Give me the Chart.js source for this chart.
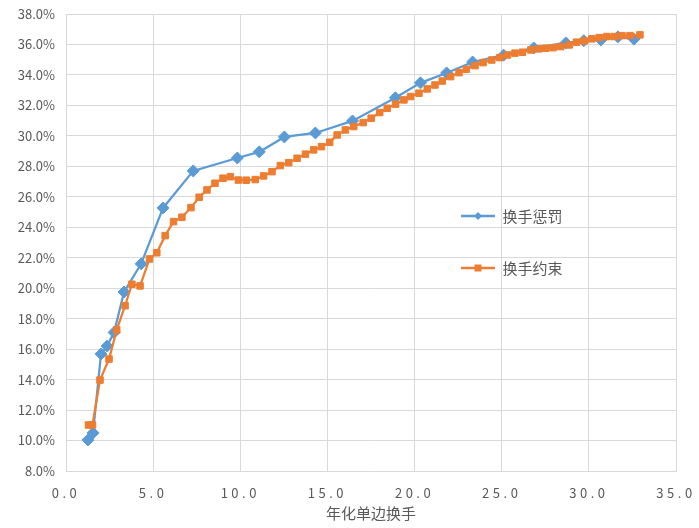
<!DOCTYPE html>
<html>
<head>
<meta charset="utf-8">
<script src="https://cdn.jsdelivr.net/npm/chart.js@4.4.0/dist/chart.umd.min.js"></script>
<style>
  body { margin: 0; background: #fff; }
  #wrap { width: 699px; height: 528px; }
</style>
</head>
<body>
<div id="wrap"><canvas id="turnoverChart" width="699" height="528"></canvas></div>
<script>
// series names
const seriesNames = ["换手惩罚", "换手约束"];

// 换手惩罚: annualized one-way turnover vs value (%)
const penaltyX = [1.26, 1.55, 2.01, 2.36, 2.76, 3.33, 4.31, 5.57, 7.30, 9.83, 11.09, 12.53, 14.31,
    16.44, 18.9, 20.34, 21.84, 23.33, 25.11, 26.84, 28.68, 29.71, 30.69, 31.67, 32.59];
const penaltyY = [10.04, 10.5, 15.68, 16.2, 17.1, 19.75, 21.6, 25.27, 27.7, 28.55, 28.95, 29.93, 30.19,
    30.98, 32.5, 33.48, 34.13, 34.85, 35.3, 35.77, 36.1, 36.25, 36.3, 36.5, 36.35];

// 换手约束
const constraintX = [1.29, 1.52, 1.95, 2.47, 2.91, 3.39, 3.78, 4.25, 4.79, 5.21, 5.69, 6.17, 6.65, 7.17,
    7.64, 8.09, 8.55, 9.01, 9.43, 9.89, 10.34, 10.86, 11.34, 11.82, 12.3, 12.78, 13.26, 13.74, 14.21,
    14.66, 15.13, 15.56, 16.03, 16.51, 17.05, 17.51, 18.0, 18.43, 18.91, 19.39, 19.77, 20.25, 20.73,
    21.17, 21.59, 22.07, 22.55, 22.97, 23.47, 23.93, 24.43, 24.89, 25.33, 25.76, 26.19, 26.67, 27.11,
    27.53, 27.95, 28.39, 28.87, 29.29, 29.73, 30.17, 30.59, 31.03, 31.45, 31.9, 32.36, 32.93];
const constraintY = [11.02, 11.02, 13.97, 15.35, 17.26, 18.85, 20.26, 20.15, 21.92, 22.33, 23.45, 24.37,
    24.66, 25.29, 25.97, 26.45, 26.89, 27.22, 27.32, 27.1, 27.09, 27.13, 27.37, 27.65, 28.05, 28.24,
    28.53, 28.8, 29.08, 29.29, 29.58, 30.06, 30.39, 30.61, 30.87, 31.16, 31.53, 31.81, 32.08, 32.36,
    32.58, 32.8, 33.08, 33.34, 33.6, 33.89, 34.15, 34.37, 34.61, 34.81, 34.98, 35.14, 35.31, 35.43,
    35.49, 35.64, 35.71, 35.75, 35.79, 35.86, 35.97, 36.15, 36.23, 36.37, 36.45, 36.52, 36.52, 36.58,
    36.58, 36.63];

// axis range
const xRange = [0, 35, 5];
const yRange = [8, 38, 2];
const xTitle = "年化单边换手";

const BLUE = "#5B9BD5";
const ORANGE = "#ED7D31";
const TEXT = "#595959";
const GRID = "#D9D9D9";
const FONT = "'Noto Sans CJK SC', 'Noto Sans', sans-serif";

function toPoints(xs, ys) {
    return xs.map((x, i) => ({ x: x, y: ys[i] }));
}

// small line+marker image used as legend symbol
function legendMark(color, shape) {
    const c = document.createElement('canvas');
    c.width = 34; c.height = 12;
    const g = c.getContext('2d');
    g.strokeStyle = color;
    g.lineWidth = 2.5;
    g.beginPath(); g.moveTo(0, 6); g.lineTo(34, 6); g.stroke();
    g.fillStyle = color;
    g.beginPath();
    if (shape === 'diamond') {
        g.moveTo(17, 2); g.lineTo(21, 6); g.lineTo(17, 10); g.lineTo(13, 6);
    } else {
        g.rect(13.5, 2.5, 7, 7);
    }
    g.closePath(); g.fill();
    return c;
}
const legendMarks = [legendMark(BLUE, 'diamond'), legendMark(ORANGE, 'square')];

// put the legend inside the plot area, on the right middle
const LEGEND_LEFT = 424;
const LEGEND_TOP = 171.5;
const legendMover = {
    id: 'legendMover',
    afterLayout(chart) {
        const lg = chart.legend;
        lg.left = LEGEND_LEFT;
        lg.top = LEGEND_TOP;
        lg.right = lg.left + lg.width;
        lg.bottom = lg.top + 200;
    },
    beforeDraw(chart) {
        // x tick labels are drawn with wide letter spacing in the original
        const xs = chart.scales.x;
        if (xs && !xs._spaced) {
            const orig = xs.drawLabels.bind(xs);
            xs.drawLabels = function(area) {
                const ctx = chart.ctx;
                ctx.save();
                ctx.letterSpacing = '3.5px';
                orig(area);
                ctx.restore();
            };
            xs._spaced = true;
        }
    }
};

const ctx = document.getElementById('turnoverChart').getContext('2d');

new Chart(ctx, {
    type: 'line',
    data: {
        datasets: [{
            label: seriesNames[0],
            data: toPoints(penaltyX, penaltyY),
            borderColor: BLUE,
            backgroundColor: BLUE,
            borderWidth: 2.25,
            pointStyle: 'rectRot',
            pointRadius: 6,
            pointBorderWidth: 1,
            tension: 0,
            order: 1
        }, {
            label: seriesNames[1],
            data: toPoints(constraintX, constraintY),
            borderColor: ORANGE,
            backgroundColor: ORANGE,
            borderWidth: 2.25,
            pointStyle: 'rect',
            pointRadius: 4.6,
            pointBorderWidth: 1,
            tension: 0,
            order: 0
        }]
    },
    options: {
        responsive: false,
        animation: false,
        layout: {
            padding: { top: 14, right: 23, bottom: 0, left: 0 }
        },
        plugins: {
            tooltip: { enabled: false },
            legend: {
                position: 'chartArea',
                align: 'start',
                labels: {
                    usePointStyle: true,
                    pointStyleWidth: 34,
                    padding: 37,
                    color: TEXT,
                    font: { family: FONT, size: 15 },
                    generateLabels: function(chart) {
                        return chart.data.datasets.map((ds, i) => ({
                            text: ds.label,
                            fillStyle: ds.borderColor,
                            strokeStyle: ds.borderColor,
                            pointStyle: legendMarks[i],
                            fontColor: TEXT,
                            lineWidth: 0,
                            datasetIndex: i
                        }));
                    }
                }
            }
        },
        scales: {
            x: {
                type: 'linear',
                min: xRange[0],
                max: xRange[1],
                afterFit: function(s) {
                    s.height = 57;
                    s.paddingLeft = 0;
                    s.paddingRight = 0;
                },
                grid: { color: GRID, lineWidth: 1, drawTicks: false },
                border: { color: GRID },
                ticks: {
                    stepSize: xRange[2],
                    padding: 14,
                    color: TEXT,
                    font: { family: FONT, size: 13 },
                    callback: v => v.toFixed(1)
                },
                title: {
                    display: true,
                    text: xTitle,
                    color: TEXT,
                    font: { family: FONT, size: 15 },
                    padding: { top: 0, bottom: 6 }
                }
            },
            y: {
                min: yRange[0],
                max: yRange[1],
                afterFit: function(s) {
                    s.width = 66;
                    s.paddingTop = 0;
                    s.paddingBottom = 0;
                },
                grid: { color: GRID, lineWidth: 1, drawTicks: false },
                border: { color: GRID },
                ticks: {
                    stepSize: yRange[2],
                    padding: 11,
                    color: TEXT,
                    font: { family: FONT, size: 13 },
                    callback: v => v.toFixed(1) + '%'
                }
            }
        }
    },
    plugins: [legendMover]
});
</script>
</body>
</html>
